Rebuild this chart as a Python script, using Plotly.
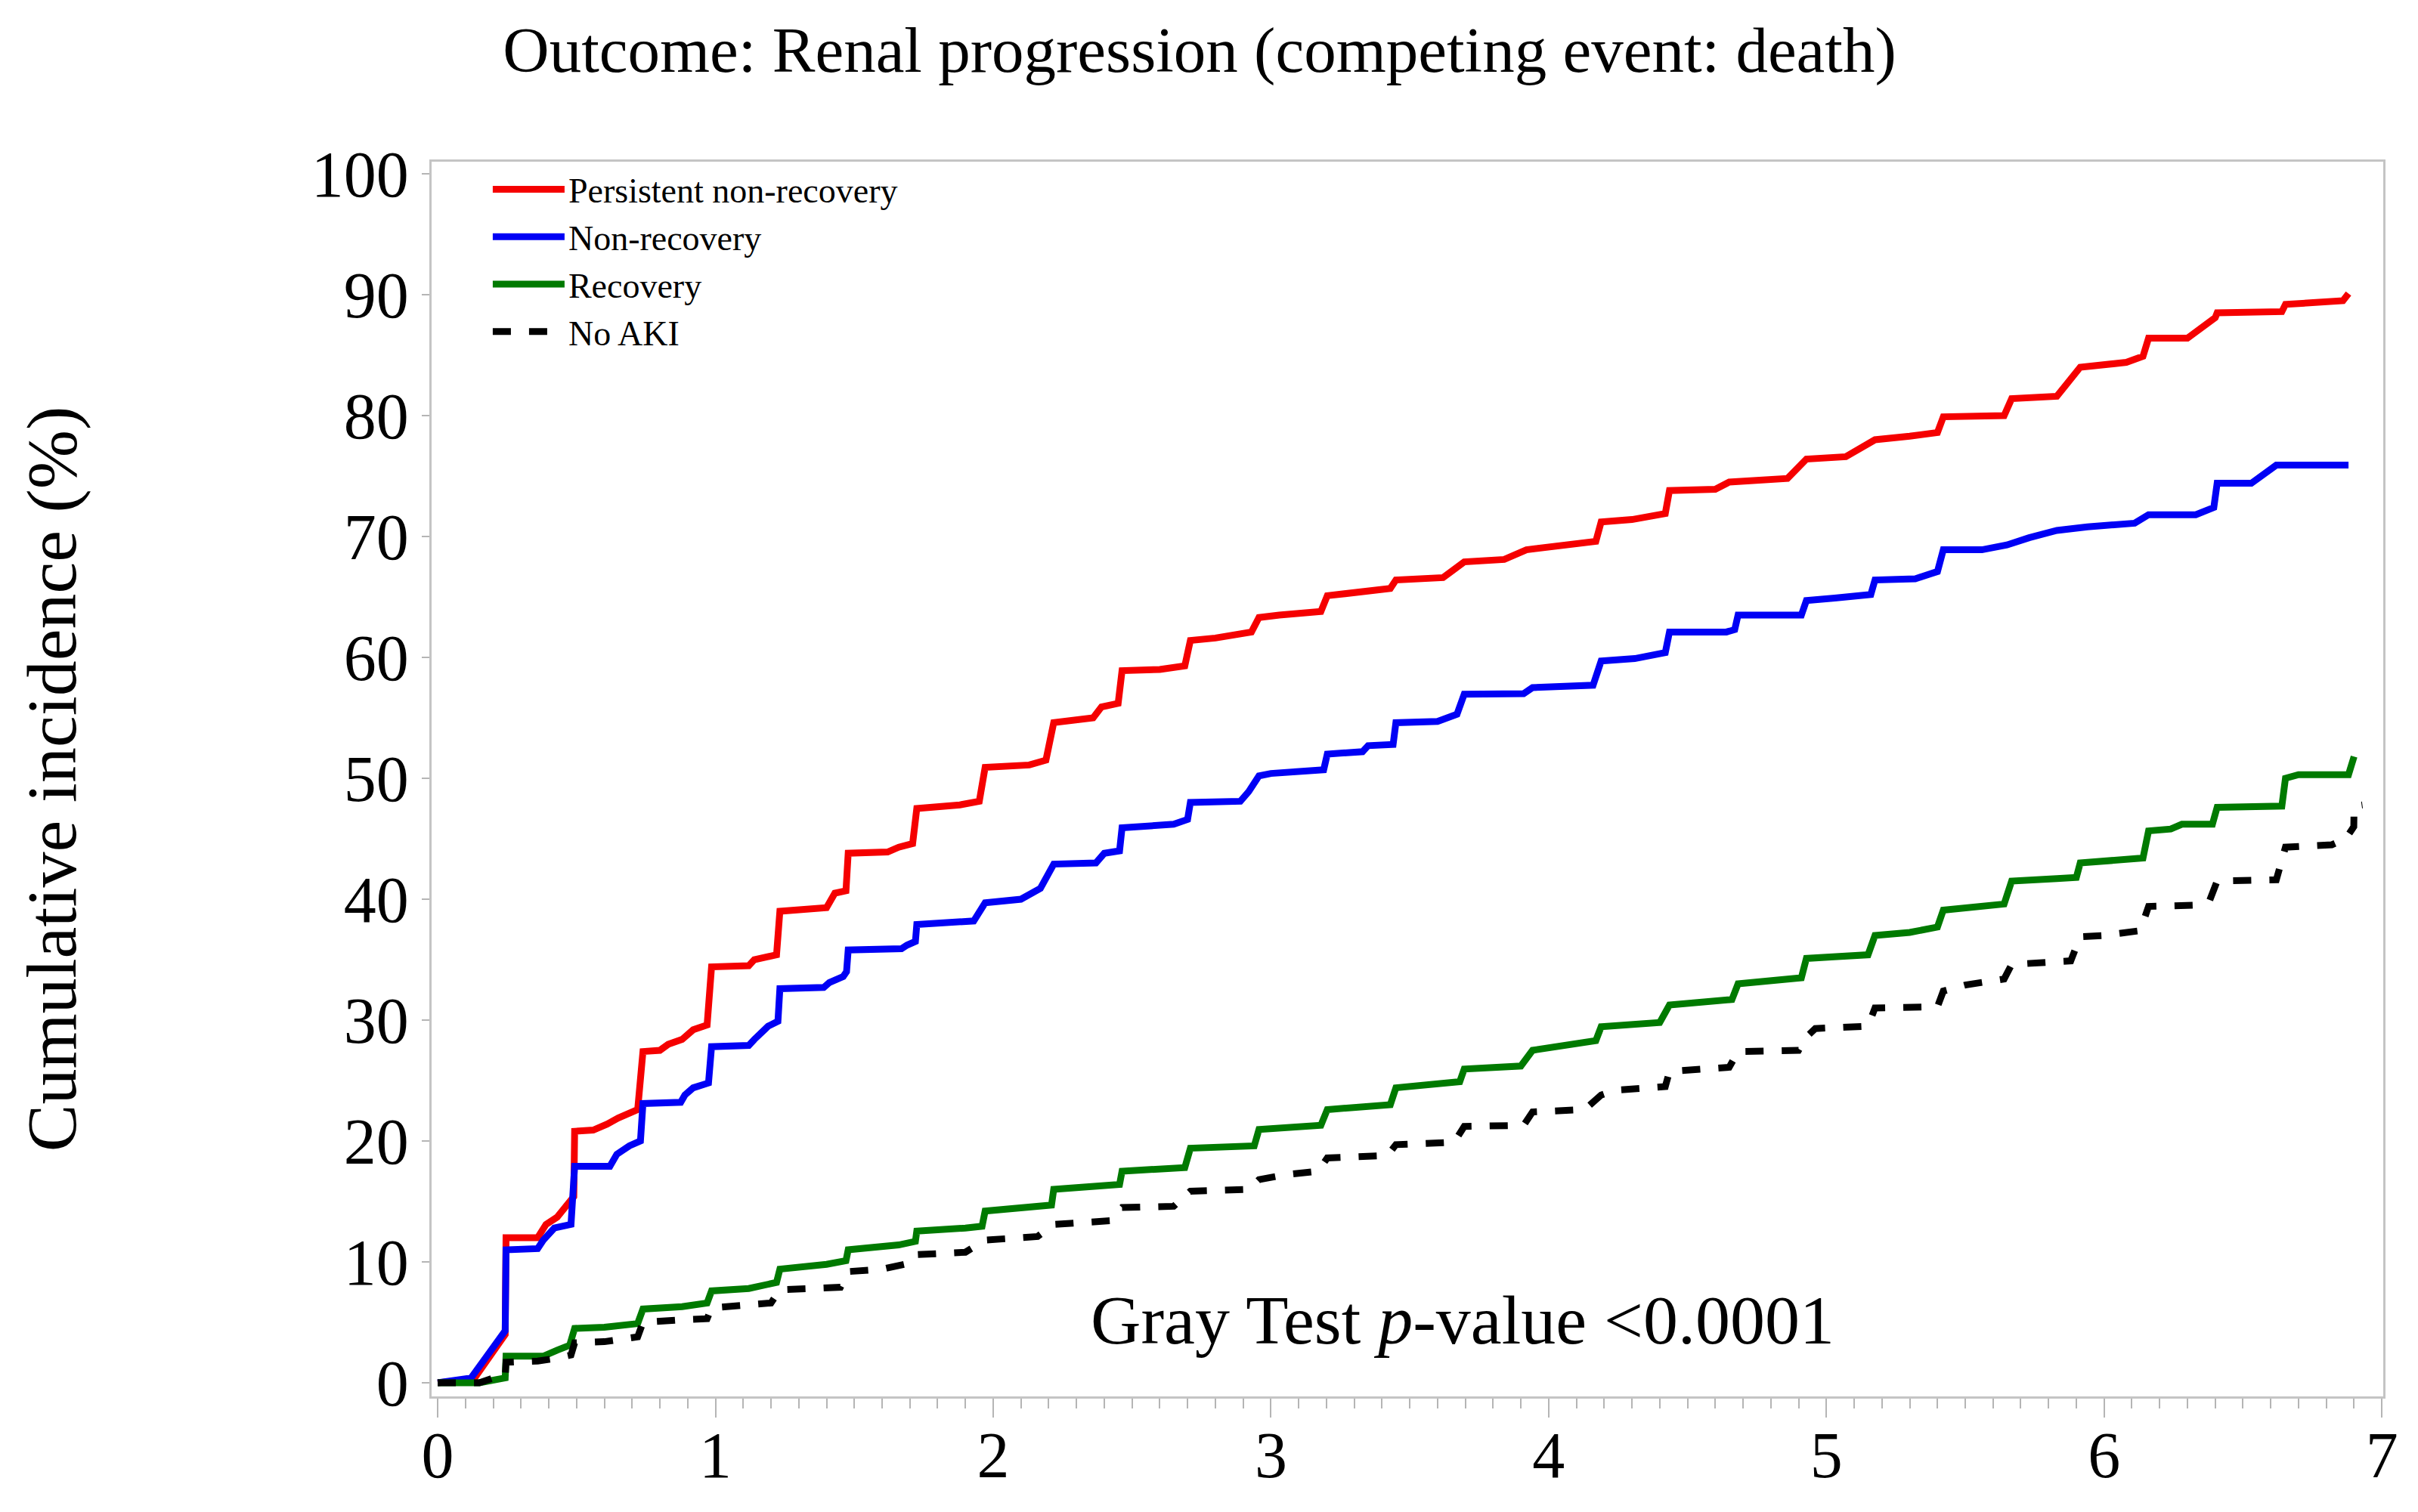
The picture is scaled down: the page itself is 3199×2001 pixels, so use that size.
import plotly.graph_objects as go

# ---------------- data ----------------
series_names = ["Persistent non-recovery", "Non-recovery", "Recovery", "No AKI"]

red_t = [0, 0.13, 0.243, 0.246, 0.36, 0.39, 0.43, 0.475, 0.49, 0.493, 0.56, 0.61, 0.65, 0.72,
         0.739, 0.80, 0.83, 0.88, 0.92, 0.97, 0.986, 1.12, 1.14, 1.22, 1.232, 1.40, 1.43, 1.47,
         1.478, 1.62, 1.66, 1.71, 1.725, 1.88, 1.95, 1.971, 2.13, 2.19, 2.218, 2.36, 2.39, 2.45,
         2.464, 2.60, 2.69, 2.710, 2.80, 2.93, 2.957, 3.03, 3.18, 3.203, 3.38, 3.43, 3.450, 3.62,
         3.696, 3.84, 3.92, 4.05, 4.17, 4.189, 4.30, 4.42, 4.435, 4.60, 4.65, 4.86, 4.928, 5.07,
         5.175, 5.30, 5.40, 5.421, 5.64, 5.667, 5.83, 5.914, 6.08, 6.14, 6.160, 6.30, 6.38, 6.40,
         6.407, 6.64, 6.653, 6.86, 6.88]
red_v = [0, 0.3, 4.0, 12.0, 12.0, 13.1, 13.7, 14.9, 15.4, 20.8, 20.9, 21.4, 21.9, 22.6,
         27.4, 27.5, 28.0, 28.4, 29.2, 29.6, 34.4, 34.5, 35.0, 35.4, 39.0, 39.3, 40.5, 40.7,
         43.8, 43.9, 44.3, 44.6, 47.5, 47.8, 48.1, 50.9, 51.1, 51.5, 54.6, 55.0, 55.9, 56.2,
         58.9, 59.0, 59.3, 61.4, 61.6, 62.1, 63.3, 63.5, 63.8, 65.1, 65.5, 65.7, 66.4, 66.6,
         67.9, 68.1, 68.9, 69.2, 69.6, 71.2, 71.4, 71.9, 73.8, 73.9, 74.5, 74.8, 76.4, 76.6,
         78.0, 78.3, 78.6, 79.9, 80.0, 81.4, 81.6, 84.0, 84.4, 84.9, 86.4, 86.4, 87.7, 88.1,
         88.5, 88.6, 89.2, 89.5, 90.1]

blue_t = [0, 0.12, 0.243, 0.246, 0.36, 0.38, 0.42, 0.48, 0.493, 0.62, 0.645, 0.69, 0.73,
          0.739, 0.875, 0.89, 0.92, 0.975, 0.986, 1.12, 1.14, 1.19, 1.225, 1.232, 1.39, 1.41,
          1.46, 1.472, 1.478, 1.67, 1.69, 1.72, 1.725, 1.93, 1.971, 2.10, 2.17, 2.218, 2.37,
          2.40, 2.455, 2.464, 2.65, 2.70, 2.710, 2.89, 2.92, 2.957, 3.00, 3.19, 3.203, 3.33,
          3.35, 3.44, 3.450, 3.60, 3.67, 3.696, 3.91, 3.942, 4.16, 4.189, 4.31, 4.42, 4.435,
          4.64, 4.67, 4.682, 4.91, 4.928, 5.03, 5.16, 5.175, 5.32, 5.40, 5.421, 5.56, 5.65,
          5.73, 5.83, 5.94, 6.11, 6.160, 6.33, 6.395, 6.407, 6.53, 6.62, 6.88]
blue_v = [0, 0.4, 4.3, 11.0, 11.1, 11.8, 12.8, 13.1, 17.9, 17.9, 18.9, 19.6, 20.0,
          23.1, 23.2, 23.8, 24.4, 24.8, 27.8, 27.9, 28.4, 29.5, 29.9, 32.6, 32.7, 33.1,
          33.6, 34.0, 35.8, 35.9, 36.2, 36.5, 37.9, 38.2, 39.7, 40.0, 40.9, 42.9, 43.0,
          43.8, 44.0, 45.9, 46.2, 46.6, 48.0, 48.1, 48.9, 50.2, 50.4, 50.7, 52.0, 52.2,
          52.7, 52.8, 54.6, 54.7, 55.3, 56.95, 57.0, 57.5, 57.7, 59.7, 59.9, 60.4, 62.1,
          62.1, 62.3, 63.5, 63.5, 64.7, 64.9, 65.2, 66.4, 66.5, 67.1, 68.9, 68.9, 69.3,
          69.9, 70.5, 70.8, 71.1, 71.8, 71.8, 72.4, 74.4, 74.4, 75.9, 75.9]

green_t = [0, 0.15, 0.22, 0.243, 0.246, 0.38, 0.43, 0.475, 0.493, 0.60, 0.72, 0.739, 0.88,
           0.97, 0.986, 1.12, 1.22, 1.232, 1.40, 1.47, 1.478, 1.66, 1.72, 1.725, 1.90, 1.96,
           1.971, 2.15, 2.21, 2.218, 2.37, 2.455, 2.464, 2.69, 2.710, 2.94, 2.957, 3.18, 3.203,
           3.43, 3.450, 3.56, 3.68, 3.696, 3.90, 3.942, 4.07, 4.17, 4.189, 4.40, 4.435, 4.66,
           4.682, 4.91, 4.928, 5.15, 5.175, 5.30, 5.40, 5.421, 5.64, 5.667, 5.83, 5.90, 5.914,
           6.05, 6.14, 6.160, 6.24, 6.28, 6.39, 6.407, 6.64, 6.653, 6.70, 6.88, 6.90]
green_v = [0, 0.0, 0.3, 0.4, 2.2, 2.2, 2.7, 3.1, 4.5, 4.6, 4.9, 6.1, 6.3,
           6.6, 7.6, 7.8, 8.3, 9.4, 9.8, 10.1, 11.0, 11.4, 11.7, 12.55, 12.8, 12.95,
           14.2, 14.5, 14.7, 16.0, 16.2, 16.4, 17.5, 17.8, 19.4, 19.6, 20.95, 21.3, 22.6,
           23.0, 24.4, 24.6, 24.9, 25.95, 26.2, 27.5, 27.9, 28.3, 29.45, 29.8, 31.25, 31.7,
           33.0, 33.5, 35.1, 35.4, 37.0, 37.25, 37.7, 39.1, 39.6, 41.5, 41.7, 41.8, 43.0,
           43.3, 43.4, 45.65, 45.8, 46.2, 46.2, 47.6, 47.7, 50.0, 50.3, 50.3, 51.8]

black_t = [0, 0.15, 0.20, 0.243, 0.246, 0.36, 0.42, 0.48, 0.493, 0.60, 0.72, 0.739, 0.87,
           0.97, 0.986, 1.10, 1.20, 1.232, 1.45, 1.478, 1.60, 1.70, 1.725, 1.90, 1.971, 2.16,
           2.218, 2.42, 2.464, 2.65, 2.710, 2.92, 2.957, 3.05, 3.17, 3.203, 3.42, 3.450, 3.66,
           3.696, 3.91, 3.942, 4.13, 4.189, 4.24, 4.42, 4.435, 4.65, 4.682, 4.90, 4.928, 4.96,
           5.15, 5.175, 5.40, 5.421, 5.50, 5.64, 5.667, 5.88, 5.914, 6.00, 6.13, 6.160, 6.32,
           6.38, 6.407, 6.62, 6.653, 6.82, 6.87, 6.899, 6.90, 6.93]
black_v = [0, 0.0, 0.4, 0.5, 1.7, 1.8, 2.0, 2.3, 3.3, 3.4, 3.8, 5.0, 5.2,
           5.3, 6.2, 6.4, 6.6, 7.7, 7.9, 9.2, 9.4, 9.9, 10.6, 10.8, 11.8, 12.1,
           13.1, 13.4, 14.5, 14.6, 15.85, 16.0, 16.8, 17.2, 17.5, 18.6, 18.8, 19.7, 19.9,
           21.2, 21.3, 22.4, 22.6, 23.8, 24.2, 24.5, 25.75, 26.1, 27.4, 27.5, 28.6, 29.3,
           29.5, 31.0, 31.1, 32.4, 32.9, 33.4, 34.6, 34.9, 36.9, 37.0, 37.4, 39.4, 39.5,
           39.9, 41.5, 41.6, 44.3, 44.5, 45.0, 46.0, 47.7, 47.8]

x_ticks = [0, 1, 2, 3, 4, 5, 6, 7]
y_ticks = [0, 10, 20, 30, 40, 50, 60, 70, 80, 90, 100]

title_text = "Outcome: Renal progression (competing event: death)"
y_title = "Cumulative incidence (%)"
note_text = "Gray Test <i>p</i>-value &lt;0.0001"
note_pos = (3.69, 5.2)

# ---------------- figure ----------------
FONT = "Liberation Serif"
colors = ["#F50000", "#0000F5", "#007A00", "#000000"]
dashes = ["solid", "solid", "solid", "24px,24px"]
xs = [red_t, blue_t, green_t, black_t]
ys = [red_v, blue_v, green_v, black_v]

fig = go.Figure()
for name, x, y, c, d in zip(series_names, xs, ys, colors, dashes):
    fig.add_trace(go.Scatter(x=x, y=y, mode="lines", name=name,
                             line=dict(color=c, width=9, dash=d)))

fig.update_layout(
    template="none",
    width=3199, height=2001,
    margin=dict(l=563, r=54, t=206, b=161),
    paper_bgcolor="white", plot_bgcolor="white",
    title=dict(text=title_text, x=0.4936, xref="container",
               xanchor="center", y=0.9715, yref="container", yanchor="middle",
               font=dict(family=FONT, size=85, color="black")),
    legend=dict(x=0.0294, y=1.0, xanchor="left", yanchor="top",
                font=dict(family=FONT, size=46, color="black"),
                itemwidth=95,
                bgcolor="rgba(0,0,0,0)", borderwidth=0, tracegroupgap=0),
    showlegend=True,
)

fig.update_xaxes(
    range=[-0.022, 7.005], tickmode="array", tickvals=x_ticks,
    ticks="outside", ticklen=25, tickwidth=2, tickcolor="#B5B5B5",
    showline=True, linecolor="#C4C4C4", linewidth=3, mirror=True,
    showgrid=False, zeroline=False, automargin=False,
    ticklabelstandoff=-24,
    tickfont=dict(family=FONT, size=86, color="black"),
    minor=dict(tick0=0, dtick=0.1, ticks="outside", ticklen=13, tickwidth=2,
               tickcolor="#B5B5B5", showgrid=False),
)
fig.update_yaxes(
    range=[-1.125, 101.0], tickmode="array", tickvals=y_ticks,
    ticks="outside", ticklen=10, tickwidth=2, tickcolor="#B5B5B5",
    showline=True, linecolor="#C4C4C4", linewidth=3, mirror=True,
    showgrid=False, zeroline=False, automargin=False,
    tickfont=dict(family=FONT, size=86, color="black"),
    title=dict(text=y_title, standoff=280, font=dict(family=FONT, size=94, color="black")),
)

fig.add_annotation(x=note_pos[0], y=note_pos[1], xref="x", yref="y", text=note_text,
                   showarrow=False, xanchor="center", yanchor="middle",
                   font=dict(family=FONT, size=92, color="black"))

fig.write_html("out.html")
